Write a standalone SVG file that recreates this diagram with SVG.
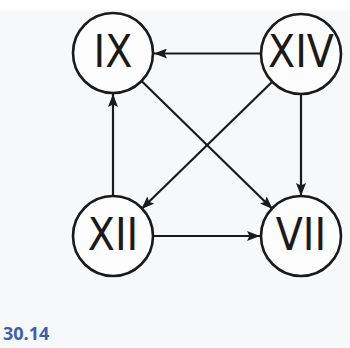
<svg xmlns="http://www.w3.org/2000/svg" width="350" height="348" viewBox="0 0 350 348">
<style>
.node circle{fill:#fdfdfd;stroke:#1a1a1a;stroke-width:2.6}
.node text{font-family:"DejaVu Sans Condensed","DejaVu Sans",sans-serif;font-stretch:condensed;font-size:44px;fill:#1a1a1a;text-anchor:middle}
.edge{stroke:#1a1a1a;stroke-width:2.2;fill:none;marker-end:url(#ah)}
.cap{font-family:"Open Sans","Liberation Sans",sans-serif;font-weight:bold;font-size:18px;fill:#3d5fae}
</style>
<defs>
<marker id="ah" viewBox="0 0 13 10" refX="13" refY="5" markerWidth="13" markerHeight="10" markerUnits="userSpaceOnUse" orient="auto">
<path d="M0,0 L13,5 L0,10 L2.5,5 Z" fill="#1a1a1a"/>
</marker>
</defs>
<rect width="350" height="348" fill="#f7f8fa"/>
<rect width="350" height="10" fill="#ffffff"/>
<g id="connectors">
<line class="edge" x1="261" y1="53.5" x2="154" y2="53.5"/>
<line class="edge" x1="272.5" y1="81.5" x2="141.5" y2="209"/>
<line class="edge" x1="301" y1="94" x2="301" y2="196"/>
<line class="edge" x1="141.5" y1="81" x2="272.5" y2="209"/>
<line class="edge" x1="113" y1="196" x2="113" y2="94"/>
<line class="edge" x1="154" y1="236" x2="260" y2="236"/>
</g>
<g id="IX" class="node"><circle cx="113" cy="53" r="40"/><text x="113" y="67">IX</text></g>
<g id="XIV" class="node"><circle cx="301" cy="54" r="40"/><text x="301" y="67">XIV</text></g>
<g id="XII" class="node"><circle cx="113" cy="236" r="40"/><text x="113" y="250">XII</text></g>
<g id="VII" class="node"><circle cx="301" cy="236" r="40"/><text x="301" y="250">VII</text></g>
<text class="cap" x="3" y="340">30.14</text>
</svg>
